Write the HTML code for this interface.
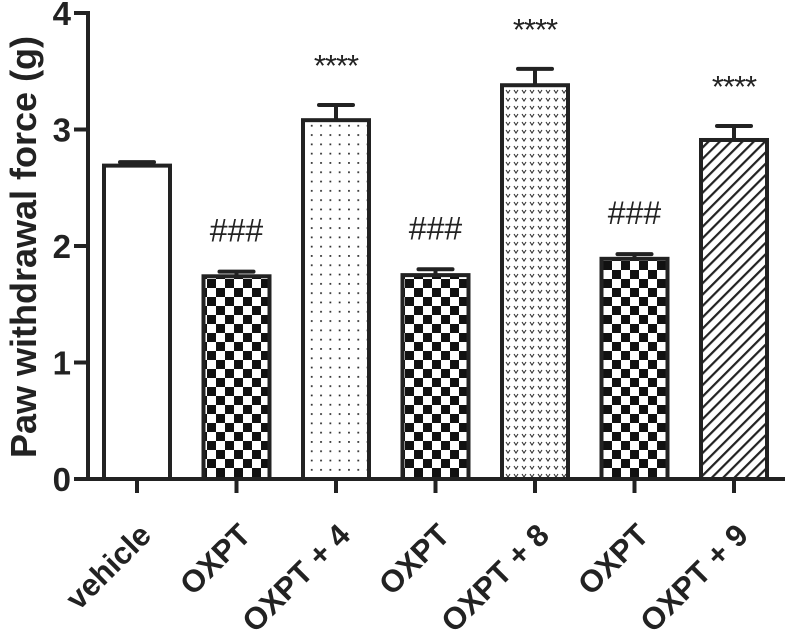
<!DOCTYPE html>
<html><head><meta charset="utf-8"><style>body{margin:0;background:#fff}svg{display:block}</style></head>
<body>
<svg id="chart" width="788" height="634" xmlns="http://www.w3.org/2000/svg" font-family="Liberation Sans, Arial, sans-serif">
<defs>
<pattern id="checker" width="18" height="18" patternUnits="userSpaceOnUse"><rect width="18" height="18" fill="#fff"/><rect width="9" height="9" fill="#111"/><rect x="9" y="9" width="9" height="9" fill="#111"/></pattern>
<pattern id="dots" width="9.3" height="9.3" patternUnits="userSpaceOnUse"><rect width="9.3" height="9.3" fill="#fff"/><rect x="4" y="4" width="1.7" height="1.7" fill="#222"/></pattern>
<pattern id="vdots" width="8" height="8" patternUnits="userSpaceOnUse"><rect width="8" height="8" fill="#fff"/><path d="M2 2 L4 5 L6 2" stroke="#333" stroke-width="1.1" fill="none"/></pattern>
<pattern id="hatch" width="8" height="8" patternUnits="userSpaceOnUse" patternTransform="rotate(45)"><rect width="8" height="8" fill="#fff"/><rect width="2.2" height="8" fill="#222"/></pattern>
<pattern id="plain" width="4" height="4" patternUnits="userSpaceOnUse"><rect width="4" height="4" fill="#fff"/></pattern>
</defs>
<g id="plot"></g>
</svg>
<script>
const categories = ["vehicle","OXPT","OXPT + 4","OXPT","OXPT + 8","OXPT","OXPT + 9"];
const means = [2.69,1.74,3.08,1.75,3.38,1.89,2.91];
const errors = [0.03,0.04,0.13,0.05,0.14,0.04,0.12];
const annotations = ["","###","****","###","****","###","****"];
const fills = ["plain","checker","dots","checker","vdots","checker","hatch"];
const yTicks = [0,1,2,3,4];

const NS="http://www.w3.org/2000/svg";
const g=document.getElementById('plot');
const x0=88,y0=479,yTop=13,yMax=4;
const y=v=>y0-(v/yMax)*(y0-yTop);
const step=99.5, first=137, bw=66;
const xc=i=>first+i*step;
function mk(t,a,p){const e=document.createElementNS(NS,t);for(const k in a)e.setAttribute(k,a[k]);(p||g).appendChild(e);return e;}

let ax=mk('line',{x1:x0,y1:y(yMax)-2,x2:x0,y2:y0+2,stroke:'#222','stroke-width':4});


let xa=mk('line',{x1:x0-14,y1:y0,x2:785,y2:y0,stroke:'#222','stroke-width':4});


yTicks.forEach(t=>{
  const l=mk('line',{x1:x0-14,y1:y(t),x2:x0,y2:y(t),stroke:'#222','stroke-width':4});
  
  
  const tx=mk('text',{x:x0-17,y:y(t)+12,'text-anchor':'end','font-size':33,'font-weight':'bold',fill:'#222'});
  tx.textContent=t;
  
  
});
const yt=mk('text',{transform:'translate(36,247) rotate(-90)','text-anchor':'middle','font-size':36,'font-weight':'bold',fill:'#222'});
yt.textContent='Paw withdrawal force (g)';



categories.forEach((c,i)=>{
  const cx=xc(i), top=y(means[i]);
  const b=mk('rect',{x:cx-bw/2,y:top,width:bw,height:y0-top,fill:'url(#'+fills[i]+')',stroke:'#222','stroke-width':4});
  
  
  const et=y(means[i]+errors[i]);
  const e1=mk('line',{x1:cx,y1:top,x2:cx,y2:et,stroke:'#222','stroke-width':4});
  
  
  const e2=mk('line',{x1:cx-17,y1:et,x2:cx+17,y2:et,stroke:'#222','stroke-width':4,'stroke-linecap':'round'});
  
  
  const tk=mk('line',{x1:cx,y1:y0,x2:cx,y2:y0+14,stroke:'#222','stroke-width':4});
  
  
  const lb=mk('text',{transform:'translate('+(cx+16)+','+(y0+58)+') rotate(-45)','text-anchor':'end','font-size':31,'font-weight':'bold',fill:'#222'});
  lb.textContent=c;
  
  
  if(annotations[i]){
    const isHash=annotations[i][0]==='#';
    const an=mk('text',{x:cx,y:isHash?et-30:et-29,'text-anchor':'middle','font-size':isHash?32:31,'letter-spacing':isHash?0:-1,fill:'#222'});
    an.textContent=annotations[i];
    
    
  }
});
</script>
</body></html>
